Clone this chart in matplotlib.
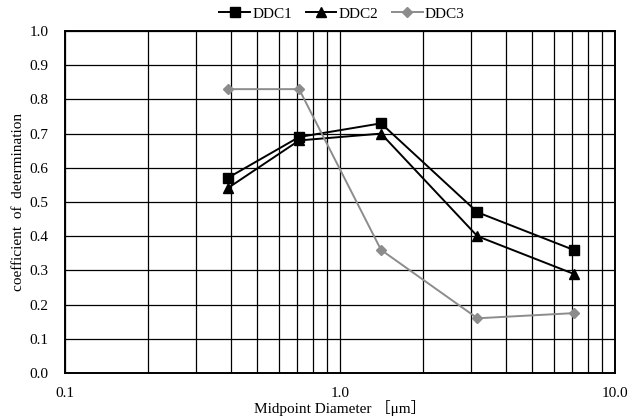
import matplotlib
matplotlib.use("Agg")
import matplotlib.pyplot as plt
from matplotlib.ticker import FixedLocator, NullFormatter

# ---- Data ----
diameter = [0.39, 0.71, 1.41, 3.16, 7.07]    # midpoint diameter (um)
ddc1 = [0.57, 0.69, 0.73, 0.47, 0.36]
ddc2 = [0.54, 0.68, 0.70, 0.40, 0.29]
ddc3 = [0.83, 0.83, 0.36, 0.16, 0.175]
series_names = ["DDC1", "DDC2", "DDC3"]
x_ticks = [0.1, 1.0, 10.0]
x_tick_labels = ["0.1", "1.0", "10.0"]
y_ticks = [i / 10 for i in range(11)]

plt.rcParams['font.family'] = ['Liberation Serif', 'Noto Sans CJK JP']
plt.rcParams['font.size'] = 11

fig = plt.figure(figsize=(6.41, 4.19), dpi=100)
ax = fig.add_axes([65 / 641, 1 - 373 / 419, 550 / 641, 342 / 419])

ax.plot(diameter, ddc1, color='black', lw=1.4, marker='s', ms=7.5, label=series_names[0])
ax.plot(diameter, ddc2, color='black', lw=1.4, marker='^', ms=7, label=series_names[1])
ax.plot(diameter, ddc3, color='#8c8c8c', lw=1.4, marker='D', ms=5, label=series_names[2])

ax.set_xscale('log')
ax.set_xlim(0.1, 10)
ax.set_ylim(0, 1.0)
ax.xaxis.set_major_locator(FixedLocator(x_ticks))
ax.set_xticklabels(x_tick_labels)
ax.xaxis.set_minor_locator(FixedLocator([m * d for d in (0.1, 1) for m in range(2, 10)]))
ax.xaxis.set_minor_formatter(NullFormatter())
ax.set_yticks(y_ticks)
ax.set_yticklabels([f"{v:.1f}" for v in y_ticks])

ax.grid(True, which='both', axis='x', color='black', lw=0.9)
ax.grid(True, which='major', axis='y', color='black', lw=0.9)
ax.tick_params(which='both', length=0)
ax.tick_params(axis='y', pad=12)
ax.tick_params(axis='x', pad=10)
for s in ax.spines.values():
    s.set_linewidth(1.4)
    s.set_color('black')

ax.set_xlabel("Midpoint Diameter ［μm］", labelpad=0)
ax.set_ylabel("coefficient  of  determination")
ax.yaxis.set_label_coords(-0.073, 0.5)

fig.legend(loc='center', bbox_to_anchor=(342 / 641, 1 - 14 / 419), ncol=3,
           frameon=False, handlelength=2.0, columnspacing=0.9, handletextpad=0.15,
           fontsize=11)

fig.savefig("out.png", dpi=100)
